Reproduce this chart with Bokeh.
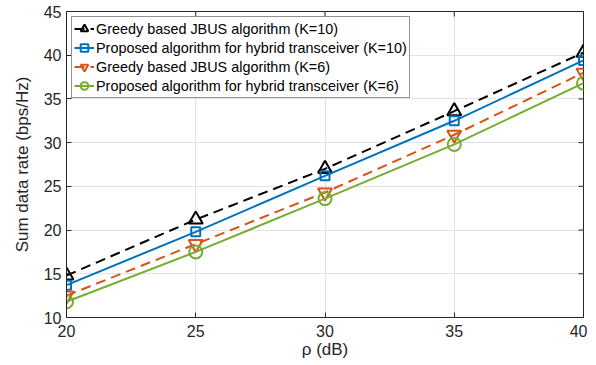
import math
from bokeh.plotting import figure
from bokeh.models import Legend, LegendItem, FixedTicker, Range1d
from bokeh.embed import file_html
from bokeh.resources import INLINE

rho = [20, 25, 30, 35, 40]
greedy_k10 = [14.8, 21.2, 27.0, 33.6, 40.3]
proposed_k10 = [13.7, 19.8, 26.2, 32.5, 39.4]
greedy_k6 = [12.5, 18.4, 24.3, 30.9, 38.0]
proposed_k6 = [11.8, 17.5, 23.6, 29.8, 36.8]

labels = ["Greedy based JBUS algorithm (K=10)",
          "Proposed algorithm for hybrid transceiver (K=10)",
          "Greedy based JBUS algorithm (K=6)",
          "Proposed algorithm for hybrid transceiver (K=6)"]
xticks = [20, 25, 30, 35, 40]
yticks = [10, 15, 20, 25, 30, 35, 40, 45]

FONT = "Liberation Sans"
AX = "#262626"

p = figure(width=587, height=362, output_backend="svg", toolbar_location=None,
           x_range=Range1d(20, 40), y_range=Range1d(10, 45),
           min_border_left=66, min_border_right=4, min_border_top=11, min_border_bottom=45)
p.background_fill_color = "white"
p.border_fill_color = "white"
p.outline_line_color = AX
p.outline_line_width = 1

for ax in (p.xaxis[0], p.yaxis[0]):
    ax.major_tick_in = 5
    ax.major_tick_out = 0
    ax.minor_tick_in = 0
    ax.minor_tick_out = 0
    ax.axis_line_color = AX
    ax.major_tick_line_color = AX
    ax.major_label_text_font = FONT
    ax.major_label_text_font_size = "16px"
    ax.major_label_text_color = AX
    ax.axis_label_text_font = FONT
    ax.axis_label_text_font_size = "17px"
    ax.axis_label_text_font_style = "normal"
    ax.axis_label_text_color = AX

p.xaxis.ticker = FixedTicker(ticks=xticks)
p.yaxis.ticker = FixedTicker(ticks=yticks)
p.xaxis.axis_label = "ρ (dB)"
p.yaxis.axis_label = "Sum data rate (bps/Hz)"
p.xaxis.major_label_standoff = 7
p.yaxis.major_label_standoff = 5
p.xaxis.axis_label_standoff = 0
p.yaxis.axis_label_standoff = 9

p.grid.grid_line_color = "#e3e3e3"
p.grid.grid_line_width = 1

# inward ticks on the top and right edges of the box
p.ray(x=xticks, y=[45] * len(xticks), length=5, length_units="screen",
      angle=-math.pi / 2, line_color=AX, line_width=1)
p.ray(x=[40] * len(yticks), y=yticks, length=5, length_units="screen",
      angle=math.pi, line_color=AX, line_width=1)

colors = ["black", "#0072BD", "#D95319", "#77AC30"]
dashes = ["10 6", "solid", "10 6", "solid"]
markers = ["triangle", "square", "inverted_triangle", "circle"]
sizes = [14, 9, 14, 13]
series = [greedy_k10, proposed_k10, greedy_k6, proposed_k6]

items = []
for ys, c, d, m, s, lab in zip(series, colors, dashes, markers, sizes, labels):
    ln = p.line(rho, ys, line_color=c, line_width=2, line_dash=d)
    sc = p.scatter(rho, ys, marker=m, size=s, line_color=c, line_width=2,
                   fill_color=None)
    items.append(LegendItem(label=lab, renderers=[ln, sc]))

legend = Legend(items=items, location="top_left",
                label_text_font=FONT, label_text_font_size="14.4px",
                label_text_color="black",
                border_line_color=AX, border_line_width=1,
                background_fill_alpha=1.0,
                glyph_width=20, glyph_height=19, label_standoff=2,
                spacing=0, padding=2, margin=5,
                label_height=19)
p.add_layout(legend, "center")

open("out.html", "w").write(file_html(p, INLINE))
